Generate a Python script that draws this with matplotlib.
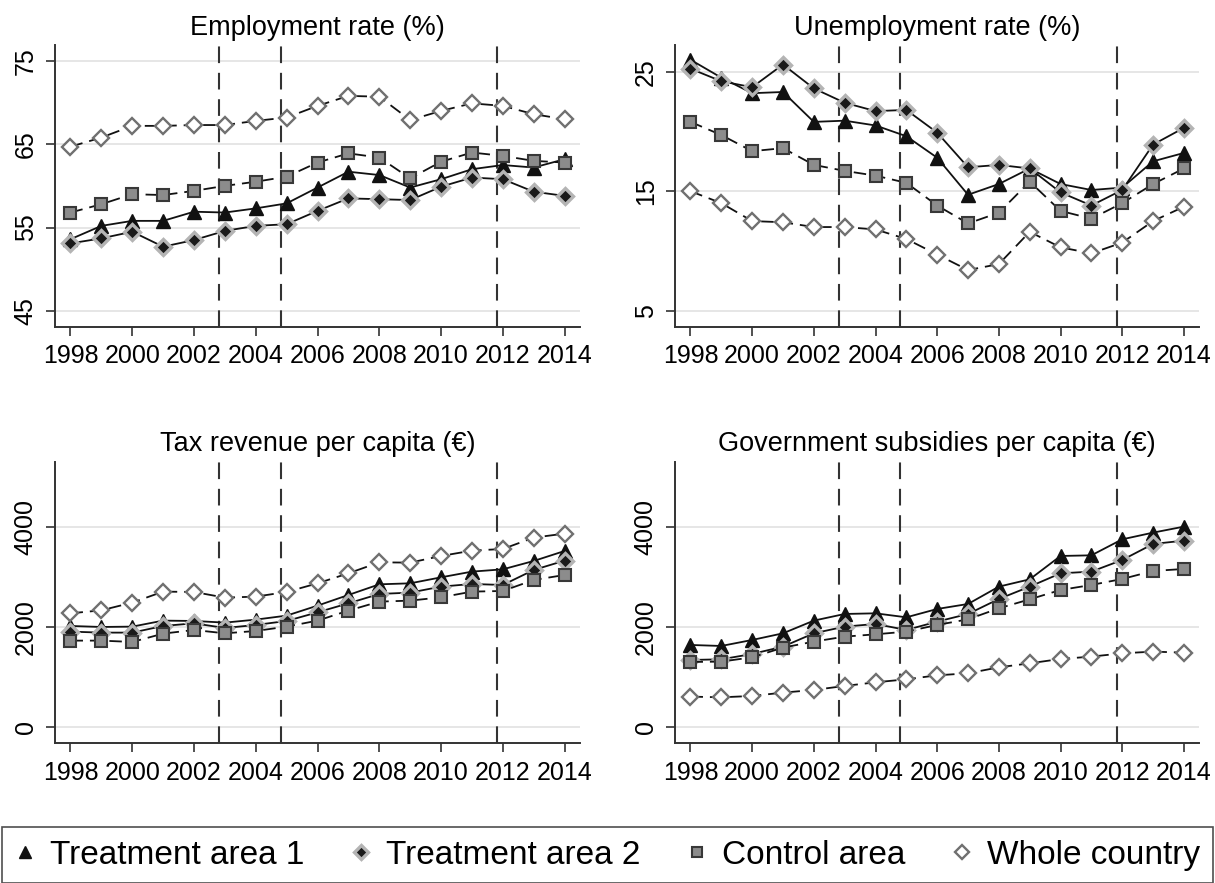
import matplotlib
matplotlib.use("Agg")
import matplotlib.pyplot as plt
from matplotlib.lines import Line2D

plt.rcParams["font.family"] = ["Liberation Sans", "DejaVu Sans"]
plt.rcParams["lines.scale_dashes"] = False

years = list(range(1998, 2015))
policy_lines = [2002.82, 2004.81, 2011.82]

# Employment rate (%)
emp_t1 = [53.6, 55.2, 55.8, 55.8, 56.9, 56.8, 57.3, 57.9, 59.8, 61.7, 61.3, 59.8, 60.8, 62.0, 62.5, 62.2, 63.2]
emp_t2 = [53.1, 53.7, 54.5, 52.7, 53.5, 54.6, 55.2, 55.4, 57.0, 58.5, 58.4, 58.3, 59.9, 61.0, 60.8, 59.3, 58.8]
emp_ctrl = [56.8, 57.8, 59.0, 58.9, 59.4, 60.0, 60.5, 61.1, 62.8, 63.9, 63.4, 60.9, 62.9, 64.0, 63.6, 63.0, 62.8]
emp_all = [64.7, 65.8, 67.2, 67.2, 67.3, 67.3, 67.8, 68.2, 69.6, 70.8, 70.7, 67.9, 69.0, 69.9, 69.6, 68.6, 68.0]

# Unemployment rate (%)
unemp_t1 = [26.0, 24.5, 23.2, 23.3, 20.8, 20.9, 20.5, 19.6, 17.8, 14.7, 15.6, 16.9, 15.6, 15.1, 15.3, 17.5, 18.2]
unemp_t2 = [25.25, 24.2, 23.7, 25.6, 23.6, 22.4, 21.7, 21.8, 19.9, 17.0, 17.2, 16.9, 14.9, 13.8, 15.1, 18.9, 20.3]
unemp_ctrl = [20.8, 19.7, 18.35, 18.6, 17.2, 16.7, 16.3, 15.7, 13.8, 12.3, 13.2, 15.8, 13.35, 12.7, 14.0, 15.6, 16.9]
unemp_all = [15.0, 14.0, 12.5, 12.4, 12.0, 12.0, 11.8, 11.0, 9.7, 8.4, 8.9, 11.6, 10.3, 9.8, 10.7, 12.5, 13.7]

# Tax revenue per capita (EUR)
tax_t1 = [2020, 2000, 2007, 2127, 2120, 2087, 2147, 2227, 2427, 2640, 2853, 2873, 2993, 3107, 3153, 3320, 3520]
tax_t2 = [1907, 1887, 1887, 2020, 2073, 1980, 2040, 2120, 2293, 2473, 2660, 2687, 2807, 2860, 2840, 3140, 3327]
tax_ctrl = [1727, 1727, 1700, 1867, 1940, 1873, 1920, 2007, 2127, 2327, 2507, 2527, 2593, 2707, 2720, 2940, 3040]
tax_all = [2273, 2333, 2487, 2707, 2700, 2587, 2607, 2700, 2873, 3073, 3293, 3287, 3420, 3527, 3560, 3787, 3867]

# Government subsidies per capita (EUR)
sub_t1 = [1640, 1620, 1740, 1873, 2127, 2260, 2273, 2193, 2360, 2460, 2807, 2953, 3420, 3433, 3753, 3887, 4007]
sub_t2 = [1340, 1353, 1460, 1607, 1873, 2007, 2060, 1940, 2107, 2260, 2560, 2807, 3073, 3107, 3340, 3660, 3727]
sub_ctrl = [1300, 1307, 1393, 1587, 1707, 1807, 1853, 1907, 2040, 2153, 2373, 2553, 2740, 2840, 2960, 3120, 3160]
sub_all = [607, 593, 620, 687, 740, 820, 893, 953, 1033, 1073, 1193, 1273, 1360, 1407, 1473, 1507, 1487]

labels = ["Treatment area 1", "Treatment area 2", "Control area", "Whole country"]

styles = [
    dict(marker="^", ms=10.5, mfc="#111111", mec="#111111", mew=1.0, ls="-"),
    dict(marker="D", ms=8.0, mfc="#1a1a1a", mec="#b4b4b4", mew=2.4, ls="-"),
    dict(marker="s", ms=9.0, mfc="#8c8c8c", mec="#383838", mew=1.5, ls=(0, (9, 5))),
    dict(marker="D", ms=8.0, mfc="white", mec="#707070", mew=1.7, ls=(0, (9, 5))),
]

panels = [
    ("Employment rate (%)", [emp_t1, emp_t2, emp_ctrl, emp_all], [45, 55, 65, 75], (43.1, 76.9)),
    ("Unemployment rate (%)", [unemp_t1, unemp_t2, unemp_ctrl, unemp_all], [5, 15, 25], (3.66, 27.23)),
    ("Tax revenue per capita (€)", [tax_t1, tax_t2, tax_ctrl, tax_all], [0, 2000, 4000], (-327, 5307)),
    ("Government subsidies per capita (€)", [sub_t1, sub_t2, sub_ctrl, sub_all], [0, 2000, 4000], (-327, 5307)),
]

positions = [
    [0.0453, 0.630, 0.4321, 0.319],
    [0.5556, 0.630, 0.4315, 0.319],
    [0.0453, 0.1582, 0.4321, 0.319],
    [0.5556, 0.1582, 0.4315, 0.319],
]

fig = plt.figure(figsize=(12.15, 8.83), dpi=100)

for pos, (title, series, yticks, ylim) in zip(positions, panels):
    ax = fig.add_axes(pos)
    for yt in yticks:
        ax.axhline(yt, color="#e6e6e6", lw=1.4, zorder=0)
    for xv in policy_lines:
        ax.axvline(xv, color="#333333", lw=1.5, ls=(0, (12, 7)), zorder=1)
    for vals, st in zip(series, styles):
        ax.plot(years, vals, color="#111111", lw=1.3, zorder=3, **st)
    ax.set_xlim(1997.5, 2014.5)
    ax.set_ylim(*ylim)
    ax.set_xticks(list(range(1998, 2015, 2)))
    ax.set_yticks(yticks)
    ax.set_title(title, fontsize=19.5, pad=7.5)
    for side in ["top", "right"]:
        ax.spines[side].set_visible(False)
    for side in ["left", "bottom"]:
        ax.spines[side].set_color("#333333")
        ax.spines[side].set_linewidth(1.4)
    ax.tick_params(axis="both", labelsize=18, length=6.5, width=1.2,
                   color="#333333", pad=6)
    ax.tick_params(axis="y", labelrotation=90)
    for lab in ax.get_yticklabels():
        lab.set_va("center")

handles = [Line2D([], [], color="#111111", ls="none",
                  **{k: v for k, v in st.items() if k != "ls"}) for st in styles]
for h in handles:
    h.set_markersize(h.get_markersize() * 0.85)

leg = fig.legend(handles, labels, ncol=4, loc="upper left",
                 bbox_to_anchor=(0.0016, 0.0, 0.9967, 0.0634),
                 mode="expand", fontsize=24, frameon=True, fancybox=False,
                 handlelength=0.6, handletextpad=0.45, borderpad=0.38,
                 borderaxespad=0.0)
leg.get_frame().set_edgecolor("#222222")
leg.get_frame().set_linewidth(1.2)

fig.savefig("out.png", dpi=100)
